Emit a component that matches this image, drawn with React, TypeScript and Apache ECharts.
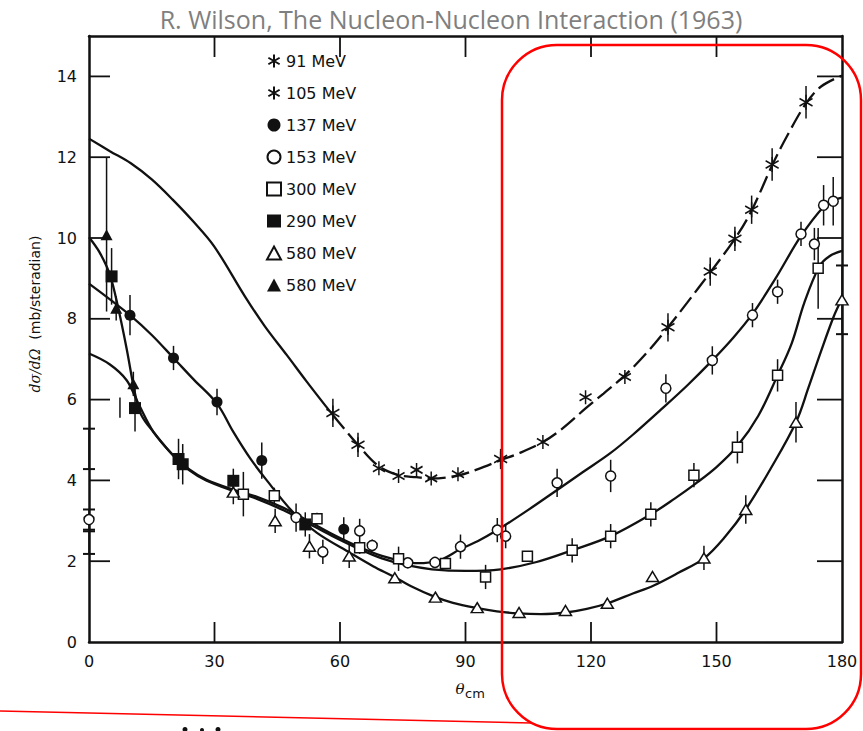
import React, { useEffect, useRef } from 'react';
import * as echarts from 'echarts';

// ---------- axes ----------
const X_MIN = 0;
const X_MAX = 180;
const X_STEP = 30;
const Y_MIN = 0;
const Y_MAX = 15;
const Y_STEP = 2;
const X_TICKS = [30, 60, 90, 120, 150];
const Y_TICKS = [2, 4, 6, 8, 10, 12, 14];

// ---------- fitted curves [theta_cm, dsigma/dOmega] ----------
const curve91: number[][] = [
  [0, 12.46], [5, 12.15], [10, 11.85], [15, 11.45], [20, 10.95], [25, 10.4], [30, 9.78], [37.3, 8.55],
  [42, 7.82], [47.3, 7.1], [52, 6.45], [56.5, 5.85], [58.3, 5.62], [64.3, 4.88], [69.3, 4.35],
  [74, 4.13], [78.3, 4.08], [81.8, 4.05], [88.2, 4.12], [93, 4.28], [98.4, 4.5], [103, 4.68],
  [108.5, 4.95], [113, 5.27], [118.7, 5.78], [123, 6.15], [128.1, 6.6], [133, 7.12], [138.4, 7.79],
  [143, 8.4], [148.5, 9.15], [154.4, 9.98], [158.4, 10.68], [163.3, 11.8], [167, 12.55],
  [171.4, 13.33], [175, 13.75], [180, 14.02],
];
const SOLID_END_91 = 58.3;

const curve137to580: number[][] = [
  [0, 8.87], [5, 8.48], [9.8, 8.09], [15, 7.6], [20.2, 7.03], [25, 6.5], [30.6, 5.9], [34.5, 5.2],
  [38.5, 4.55], [42.5, 4.0], [48.9, 3.2], [54.5, 2.7], [62.5, 2.2], [68, 1.87], [72.8, 1.62],
  [77, 1.38], [82.4, 1.13], [87, 0.97], [92.8, 0.84], [97.5, 0.76], [102.5, 0.71], [108, 0.69],
  [114, 0.73], [119, 0.82], [124, 0.96], [130, 1.2], [135, 1.4], [141, 1.72], [147, 2.07],
  [152, 2.6], [157, 3.28], [163, 4.3], [169, 5.44], [172, 6.3], [175, 7.2], [178, 8.05], [180, 8.5],
];

const curveSteepTo153: number[][] = [
  [0, 10.02], [2.5, 9.65], [5, 9.09], [7, 8.26], [9, 7.26], [11, 6.15], [12.5, 5.62], [15.4, 5.2],
  [20.2, 4.61], [24, 4.27], [28, 4.02], [34.5, 3.77], [40, 3.6], [46.5, 3.32], [52, 3.02],
  [58, 2.68], [64, 2.38], [70, 2.13], [76, 1.98], [80, 1.95], [84, 2.03], [88.8, 2.3], [93, 2.5],
  [97.6, 2.77], [105, 3.27], [112, 3.77], [118, 4.2], [124.7, 4.68], [130, 5.13], [136.7, 5.75],
  [143, 6.35], [149, 6.97], [154, 7.53], [158.6, 8.12], [164, 8.98], [170.2, 10.05], [175.8, 10.8],
  [178, 10.94], [180, 11.0],
];

const curve290to300: number[][] = [
  [0, 7.14], [5, 6.87], [9, 6.48], [11.8, 5.9], [15.4, 5.2], [20.2, 4.61], [24, 4.25], [28, 4.0],
  [34.5, 3.74], [40, 3.55], [46.5, 3.26], [52, 2.96], [58, 2.63], [64, 2.33], [70, 2.07],
  [76, 1.9], [82, 1.8], [90, 1.76], [98.4, 1.8], [107, 1.98], [115.5, 2.27], [124.7, 2.62],
  [134.3, 3.16], [140, 3.55], [145, 3.92], [150, 4.33], [155, 4.85], [160, 5.6], [164.6, 6.6],
  [168, 7.4], [171, 8.4], [174.6, 9.3], [177, 9.55], [180, 9.68],
];

// ---------- measured points [theta, value, errDown, errUp?] ----------
const pts91: number[][] = [
  [69.3, 4.3], [74, 4.11], [78.3, 4.26], [81.8, 4.05], [88.2, 4.15], [108.5, 4.95], [118.7, 6.06], [128.1, 6.56],
];
const pts105: number[][] = [
  [58.3, 5.67, 0.35], [64.3, 4.88, 0.3], [98.4, 4.53, 0.25], [138.4, 7.79, 0.35], [148.5, 9.17, 0.35],
  [154.4, 9.98, 0.3], [158.4, 10.7, 0.35], [163.3, 11.82, 0.4], [171.4, 13.36, 0.4],
];
const pts137: number[][] = [
  [9.8, 8.09, 0.5], [20.2, 7.03, 0.3], [30.6, 5.94, 0.33], [41.3, 4.49, 0.45], [60.9, 2.79, 0.3],
];
const pts153: number[][] = [
  [0, 3.03], [49.5, 3.08, 0.35], [55.9, 2.23, 0.3], [64.7, 2.75, 0.3], [67.7, 2.39, 0.15],
  [76.2, 1.96, 0.1], [82.7, 1.97, 0.1], [88.8, 2.36, 0.3], [97.6, 2.77, 0.3], [99.6, 2.62, 0.3],
  [111.9, 3.94, 0.35], [124.7, 4.11, 0.4], [137.9, 6.28, 0.35], [149, 6.97, 0.35], [158.6, 8.09, 0.3],
  [164.6, 8.67, 0.3], [170.2, 10.1, 0.3], [173.4, 9.85, 0.4], [175.6, 10.81, 0.5], [177.9, 10.91, 0.6],
];
const pts300: number[][] = [
  [36.9, 3.66, 0.55], [44.3, 3.62, 0.2], [54.5, 3.05, 0.15], [64.7, 2.33, 0.15], [74, 2.06, 0.3],
  [85.2, 1.94, 0.1], [94.8, 1.61, 0.3], [104.8, 2.12, 0.1], [115.5, 2.27, 0.3], [124.7, 2.62, 0.3],
  [134.3, 3.16, 0.3], [144.6, 4.13, 0.3], [155, 4.82, 0.4], [164.6, 6.6, 0.4], [174.3, 9.25, 1.0],
];
const pts290: number[][] = [
  [5.4, 9.05, 0.7], [11, 5.79, 0.58], [21.4, 4.53, 0.5], [22.4, 4.4, 0.5], [34.5, 3.99, 0.3], [51.7, 2.91, 0.3],
];
const pts580open: number[][] = [
  [34.5, 3.71, 0.3], [44.5, 3.0, 0.3], [52.7, 2.37, 0.3], [62.2, 2.13, 0.3], [73.1, 1.59], [82.8, 1.11],
  [92.8, 0.85], [102.8, 0.73], [113.9, 0.78], [123.9, 0.96], [134.7, 1.62], [147, 2.08, 0.3],
  [157, 3.28, 0.35], [169, 5.44, 0.5], [180, 8.47],
];
const pts580filled: number[][] = [
  [4.2, 10.08, 1.9, 1.92], [6.5, 8.26, 0.3], [10.6, 6.39, 0.3],
];
// bars with end caps drawn on the axes [theta, centre, half-length]
const cappedBars: number[][] = [
  [0, 4.78, 0.5], [0, 3.03, 0.25], [0, 2.46, 0.28], [180, 8.47, 0.85],
];
const looseBars: number[][] = [[7.4, 5.8, 0.25]];

const LEGEND_NAMES = ['91 MeV', '105 MeV', '137 MeV', '153 MeV', '300 MeV', '290 MeV', '580 MeV', '580 MeV●'];

const INK = '#111';
const STAR = 'path://M10,0L10,20M1.34,5L18.66,15M1.34,15L18.66,5';
const LABEL_FONT = 'DejaVu Sans';

function barsOf(points: number[][]) {
  return points
    .filter((p) => p.length > 2 && p[2] > 0)
    .map((p) => [p[0], p[1], p[2], p.length > 3 ? p[3] : p[2]]);
}

function makeBarRender(caps: boolean) {
  return (_params: any, api: any) => {
    const x = api.value(0);
    const y = api.value(1);
    const dn = api.value(2);
    const up = api.value(3);
    const a = api.coord([x, y - dn]);
    const b = api.coord([x, y + up]);
    const style = { stroke: INK, lineWidth: 1.5 };
    const children: any[] = [{ type: 'line', shape: { x1: a[0], y1: a[1], x2: b[0], y2: b[1] }, style }];
    if (caps) {
      children.push({ type: 'line', shape: { x1: a[0] - 6, y1: a[1], x2: a[0] + 6, y2: a[1] }, style: { stroke: INK, lineWidth: 2 } });
      children.push({ type: 'line', shape: { x1: b[0] - 6, y1: b[1], x2: b[0] + 6, y2: b[1] }, style: { stroke: INK, lineWidth: 2 } });
    }
    return { type: 'group', children };
  };
}

export default function App() {
  const ref = useRef<HTMLDivElement>(null);

  useEffect(() => {
    if (!ref.current) return;
    const chart = echarts.init(ref.current, undefined, { renderer: 'svg' });

    const curveStyle = { color: INK, width: 2.3 };
    const lineSeries = (data: number[][], dashed = false) => ({
      type: 'line',
      data,
      smooth: 0.35,
      showSymbol: false,
      silent: true,
      z: 2,
      lineStyle: { ...curveStyle, type: dashed ? [18, 6] : 'solid' },
    });

    const markDefs = [
      { name: LEGEND_NAMES[0], data: pts91, symbol: STAR, size: [12, 14], color: 'rgba(0,0,0,0)', border: 1.6 },
      { name: LEGEND_NAMES[1], data: pts105, symbol: STAR, size: [13, 15], color: 'rgba(0,0,0,0)', border: 1.6 },
      { name: LEGEND_NAMES[2], data: pts137, symbol: 'circle', size: 11, color: INK, border: 0 },
      { name: LEGEND_NAMES[3], data: pts153, symbol: 'circle', size: 10, color: '#fff', border: 1.5 },
      { name: LEGEND_NAMES[4], data: pts300, symbol: 'rect', size: 10, color: '#fff', border: 1.5 },
      { name: LEGEND_NAMES[5], data: pts290, symbol: 'rect', size: 12, color: INK, border: 0 },
      { name: LEGEND_NAMES[6], data: pts580open, symbol: 'triangle', size: [12, 10], color: '#fff', border: 1.5 },
      { name: LEGEND_NAMES[7], data: pts580filled, symbol: 'triangle', size: [12, 11], color: INK, border: 0 },
    ];

    const allPts = markDefs.map((m) => m.data);
    const errorData = ([] as number[][]).concat(...allPts.map(barsOf), barsOf(looseBars));

    const series: any[] = [
      lineSeries(curve91.filter((p) => p[0] <= SOLID_END_91)),
      lineSeries(curve91.filter((p) => p[0] >= SOLID_END_91), true),
      lineSeries(curve137to580),
      lineSeries(curveSteepTo153),
      lineSeries(curve290to300),
      {
        type: 'custom',
        name: 'error bars',
        data: errorData,
        renderItem: makeBarRender(false),
        encode: { x: 0, y: 1 },
        silent: true,
        z: 3,
      },
      {
        type: 'custom',
        name: 'axis bars',
        data: barsOf(cappedBars),
        renderItem: makeBarRender(true),
        encode: { x: 0, y: 1 },
        silent: true,
        z: 3,
      },
      ...markDefs.map((m) => ({
        type: 'scatter',
        name: m.name,
        data: m.data.map((p) => [p[0], p[1]]),
        symbol: m.symbol,
        symbolSize: m.size,
        clip: false,
        z: 4,
        itemStyle: { color: m.color, borderColor: INK, borderWidth: m.border, opacity: 1 },
      })),
    ];

    const axisFont = { fontFamily: LABEL_FONT, fontSize: 16, color: INK };
    const frameLine = { show: true, onZero: false, lineStyle: { color: INK, width: 2.5 } };

    chart.setOption({
      animation: false,
      backgroundColor: '#fff',
      grid: { left: 89, top: 36, width: 753, height: 606, show: false },
      legend: {
        data: LEGEND_NAMES,
        orient: 'vertical',
        left: 261,
        top: 48,
        itemWidth: 14,
        itemHeight: 13,
        itemGap: 16,
        selectedMode: false,
        formatter: (name: string) => name.replace('●', ''),
        textStyle: { fontFamily: LABEL_FONT, fontSize: 16, color: INK },
      },
      xAxis: [
        {
          type: 'value',
          position: 'bottom',
          min: X_MIN,
          max: X_MAX,
          interval: X_STEP,
          axisLine: frameLine,
          axisTick: { show: false },
          axisLabel: { ...axisFont, margin: 11 },
          splitLine: { show: false },
        },
        {
          type: 'value',
          position: 'top',
          min: X_MIN,
          max: X_MAX,
          interval: X_STEP,
          axisLine: frameLine,
          axisTick: { show: false },
          axisLabel: { show: false },
          splitLine: { show: false },
        },
      ],
      yAxis: [
        {
          type: 'value',
          position: 'left',
          min: Y_MIN,
          max: Y_MAX,
          interval: Y_STEP,
          axisLine: frameLine,
          axisTick: { show: false },
          axisLabel: { ...axisFont, margin: 12, showMaxLabel: false },
          splitLine: { show: false },
        },
        {
          type: 'value',
          position: 'right',
          min: Y_MIN,
          max: Y_MAX,
          interval: Y_STEP,
          axisLine: frameLine,
          axisTick: { show: false },
          axisLabel: { show: false },
          splitLine: { show: false },
        },
      ],
      graphic: [
        {
          id: 'title',
          type: 'text',
          x: 451,
          y: 19,
          style: {
            text: 'R. Wilson, The Nucleon-Nucleon Interaction (1963)',
            fill: '#7f7f7f',
            font: '25px "Open Sans"',
            align: 'center',
            verticalAlign: 'middle',
          },
        },
        {
          id: 'yname',
          type: 'text',
          x: 35,
          y: 314,
          rotation: Math.PI / 2,
          style: {
            text: '{i|dσ/dΩ}  (mb/steradian)',
            fill: INK,
            font: '14px "DejaVu Sans"',
            align: 'center',
            verticalAlign: 'middle',
            rich: { i: { fontStyle: 'italic', fontFamily: 'DejaVu Serif', fontSize: 14, fill: INK } },
          },
        },
        {
          id: 'xname-theta',
          type: 'text',
          x: 460,
          y: 689,
          style: {
            text: 'θ',
            fill: INK,
            font: 'italic 15px "DejaVu Serif"',
            align: 'center',
            verticalAlign: 'middle',
          },
        },
        {
          id: 'xname-cm',
          type: 'text',
          x: 465,
          y: 693,
          style: {
            text: 'cm',
            fill: INK,
            font: '13px "DejaVu Sans"',
            align: 'left',
            verticalAlign: 'middle',
          },
        },
        {
          id: 'red-box',
          type: 'rect',
          shape: { x: 502, y: 45, width: 359, height: 684, r: 55 },
          style: { fill: 'none', stroke: '#ff0000', lineWidth: 2.5 },
          z: 100,
        },
        {
          id: 'red-line',
          type: 'line',
          shape: { x1: 0, y1: 711, x2: 532, y2: 723 },
          style: { stroke: '#ff0000', lineWidth: 1.5 },
          z: 100,
        },
        { id: 'dot1', type: 'circle', shape: { cx: 185, cy: 729.5, r: 2.5 }, style: { fill: INK } },
        { id: 'dot2', type: 'circle', shape: { cx: 202, cy: 730, r: 2 }, style: { fill: INK } },
        { id: 'dot3', type: 'circle', shape: { cx: 218, cy: 729.5, r: 2.5 }, style: { fill: INK } },
      ],
      series,
    });

    // inward tick marks on all four sides, positioned through the chart's own scales
    const toPx = (x: number, y: number) => chart.convertToPixel({ gridIndex: 0 }, [x, y]) as number[];
    const tickStyle = { stroke: INK, lineWidth: 1.8 };
    const ticks: any[] = [];
    X_TICKS.forEach((t, i) => {
      const b = toPx(t, Y_MIN);
      const tp = toPx(t, Y_MAX);
      ticks.push({ id: `xb${i}`, type: 'line', z: 50, shape: { x1: b[0], y1: b[1], x2: b[0], y2: b[1] - 20 }, style: tickStyle });
      ticks.push({ id: `xt${i}`, type: 'line', z: 50, shape: { x1: tp[0], y1: tp[1], x2: tp[0], y2: tp[1] + 21 }, style: tickStyle });
    });
    Y_TICKS.forEach((v, i) => {
      const l = toPx(X_MIN, v);
      const r = toPx(X_MAX, v);
      ticks.push({ id: `yl${i}`, type: 'line', z: 50, shape: { x1: l[0], y1: l[1], x2: l[0] + 21, y2: l[1] }, style: tickStyle });
      ticks.push({ id: `yr${i}`, type: 'line', z: 50, shape: { x1: r[0], y1: r[1], x2: r[0] - 25, y2: r[1] }, style: tickStyle });
    });
    chart.setOption({ graphic: ticks });

    return () => chart.dispose();
  }, []);

  return (
    <div
      ref={ref}
      style={{ position: 'fixed', left: 0, top: 0, width: 863, height: 731, background: '#fff' }}
    />
  );
}
